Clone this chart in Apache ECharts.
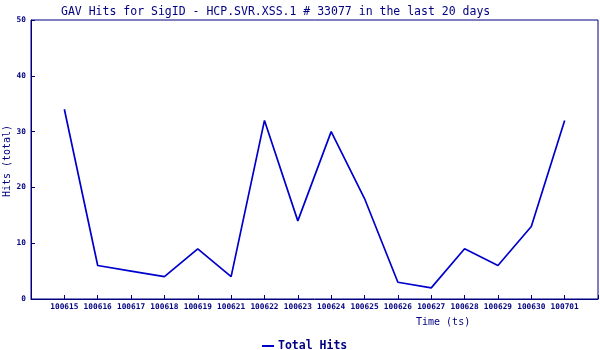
<!DOCTYPE html>
<html>
<head>
<meta charset="utf-8">
<script src="https://cdn.jsdelivr.net/npm/echarts@6/dist/echarts.min.js"></script>
<style>html,body{margin:0;padding:0;background:#fff;}#c{width:600px;height:350px;}</style>
</head>
<body>
<div id="c"></div>
<script>
const categories = ['100615','100616','100617','100618','100619','100621','100622','100623','100624','100625','100626','100627','100628','100629','100630','100701'];
const totalHits = [34, 6, 5, 4, 9, 4, 32, 14, 30, 18, 3, 2, 9, 6, 13, 32];
const yTicks = [0, 10, 20, 30, 40, 50];

const navy = '#000080';
const mono = 'DejaVu Sans Mono';
const chart = echarts.init(document.getElementById('c'), null, {renderer: 'canvas'});
chart.setOption({
  animation: false,
  backgroundColor: '#fff',
  title: {
    text: 'GAV Hits for SigID - HCP.SVR.XSS.1 # 33077 in the last 20 days',
    left: 56, top: 1,
    textStyle: {fontFamily: mono, fontSize: 11.5, fontWeight: 'normal', color: navy}
  },
  grid: {left: 31, top: 20, right: 2, bottom: 51, containLabel: false, outerBoundsMode: 'none',
         show: true, borderColor: navy, borderWidth: 1, backgroundColor: 'transparent'},
  legend: {
    left: 257, top: 335,
    icon: 'rect', itemWidth: 12, itemHeight: 2, itemGap: 4,
    data: ['Total Hits'],
    textStyle: {fontFamily: mono, fontSize: 11.5, fontWeight: 'bold', color: navy, padding: [0,0,0,-1]}
  },
  xAxis: {
    type: 'value', min: -1, max: categories.length, interval: 1,
    axisLine: {onZero: false, lineStyle: {color: navy, width: 1}},
    axisTick: {inside: true, length: 4, lineStyle: {color: navy}},
    splitLine: {show: false},
    axisLabel: {
      fontFamily: mono, fontSize: 7.8, fontWeight: 'bold', color: navy, margin: 4,
      formatter: v => (v >= 0 && v < categories.length) ? categories[v] : ''
    }
  },
  yAxis: {
    type: 'value', min: yTicks[0], max: yTicks[yTicks.length-1], interval: 10,
    axisLine: {show: true, onZero: false, lineStyle: {color: navy, width: 1}},
    axisTick: {show: true, inside: true, length: 4, lineStyle: {color: navy}},
    splitLine: {show: false},
    axisLabel: {fontFamily: mono, fontSize: 7.8, fontWeight: 'bold', color: navy, margin: 5}
  },
  graphic: [{
    type: 'text', left: 416, top: 317,
    style: {text: 'Time (ts)', fontFamily: mono, fontSize: 10, fill: navy}
  }, {
    type: 'text', x: 7, y: 161, rotation: Math.PI / 2,
    style: {text: 'Hits (total)', fontFamily: mono, fontSize: 10, fill: navy, align: 'center', verticalAlign: 'middle'}
  }],
  series: [{
    name: 'Total Hits', type: 'line',
    data: totalHits.map((v, i) => [i, v]),
    showSymbol: false, symbol: 'none',
    lineStyle: {color: '#0000cc', width: 1.7},
    itemStyle: {color: '#0000cc'}
  }]
});
</script>
</body>
</html>
